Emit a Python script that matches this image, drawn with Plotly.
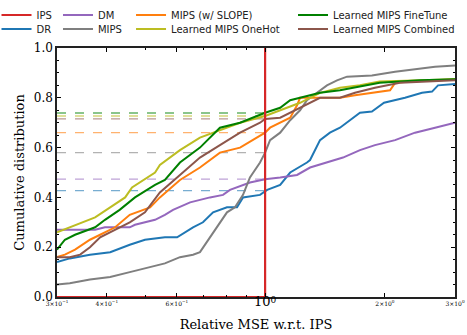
import plotly.graph_objects as go

# ---------------- data ----------------
ips_x = [0.3, 1.0, 1.0]
ips_y = [0.0, 0.0, 1.0]

dr_x = [0.300, 0.323, 0.363, 0.408, 0.457, 0.499, 0.560, 0.601, 0.659, 0.698, 0.740, 0.802, 0.850, 0.880, 0.971, 1.0,
        1.012, 1.091, 1.156, 1.274, 1.297, 1.374, 1.455, 1.542, 1.634, 1.731, 1.855, 1.99, 2.246, 2.479, 2.627, 2.719, 3.0]
dr_y = [0.14, 0.155, 0.17, 0.18, 0.21, 0.23, 0.24, 0.24, 0.28, 0.30, 0.34, 0.36, 0.36, 0.40, 0.41, 0.427,
        0.43, 0.45, 0.50, 0.54, 0.55, 0.63, 0.66, 0.68, 0.71, 0.74, 0.745, 0.78, 0.80, 0.82, 0.825, 0.85, 0.855]

dm_x = [0.300, 0.374, 0.396, 0.457, 0.471, 0.529, 0.560, 0.587, 0.648, 0.727, 0.784, 0.816, 0.916, 1.0,
        1.091, 1.203, 1.297, 1.430, 1.569, 1.731, 1.888, 2.121, 2.38, 2.673, 3.0]
dm_y = [0.27, 0.27, 0.28, 0.28, 0.29, 0.31, 0.33, 0.35, 0.38, 0.40, 0.41, 0.43, 0.46, 0.473,
        0.48, 0.49, 0.52, 0.54, 0.56, 0.59, 0.61, 0.63, 0.66, 0.68, 0.70]

mips_x = [0.300, 0.323, 0.363, 0.408, 0.457, 0.514, 0.560, 0.611, 0.659, 0.686, 0.727, 0.770, 0.802, 0.840, 0.880,
          0.916, 0.971, 1.0, 1.029, 1.091, 1.156, 1.224, 1.274, 1.350, 1.430, 1.516, 1.606, 1.855, 2.121, 2.673, 3.0]
mips_y = [0.05, 0.055, 0.07, 0.08, 0.10, 0.12, 0.135, 0.16, 0.17, 0.18, 0.24, 0.30, 0.34, 0.36, 0.41,
          0.48, 0.54, 0.58, 0.63, 0.66, 0.71, 0.75, 0.79, 0.82, 0.85, 0.87, 0.885, 0.89, 0.905, 0.925, 0.93]

slope_x = [0.300, 0.314, 0.333, 0.363, 0.385, 0.420, 0.457, 0.514, 0.544, 0.611, 0.686, 0.770, 0.865, 0.971, 1.0,
           1.029, 1.091, 1.156, 1.203, 1.224, 1.374, 1.542, 1.682, 2.06, 2.121, 2.312, 3.0]
slope_y = [0.16, 0.17, 0.19, 0.23, 0.25, 0.28, 0.33, 0.36, 0.40, 0.47, 0.52, 0.58, 0.60, 0.65, 0.66,
           0.68, 0.70, 0.72, 0.77, 0.80, 0.80, 0.80, 0.81, 0.83, 0.86, 0.865, 0.875]

onehot_x = [0.300, 0.374, 0.408, 0.445, 0.463, 0.529, 0.544, 0.611, 0.686, 0.770, 0.865, 1.0,
            1.091, 1.224, 1.374, 1.542, 1.731, 1.94, 3.0]
onehot_y = [0.26, 0.32, 0.36, 0.40, 0.44, 0.50, 0.53, 0.59, 0.64, 0.67, 0.70, 0.727,
            0.75, 0.78, 0.82, 0.84, 0.85, 0.865, 0.875]

finetune_x = [0.300, 0.314, 0.333, 0.374, 0.396, 0.431, 0.471, 0.529, 0.560, 0.611, 0.686, 0.727, 0.770, 0.865, 1.0,
              1.091, 1.156, 1.224, 1.374, 1.542, 1.731, 1.94, 2.45, 3.0]
finetune_y = [0.19, 0.23, 0.25, 0.28, 0.31, 0.35, 0.40, 0.45, 0.47, 0.54, 0.60, 0.64, 0.68, 0.70, 0.74,
              0.76, 0.79, 0.80, 0.82, 0.83, 0.845, 0.86, 0.87, 0.875]

combined_x = [0.300, 0.323, 0.343, 0.363, 0.385, 0.408, 0.457, 0.499, 0.544, 0.611, 0.686, 0.770, 0.865, 0.971, 1.0,
              1.091, 1.156, 1.224, 1.297, 1.374, 1.542, 1.682, 1.888, 2.18, 3.0]
combined_y = [0.16, 0.16, 0.17, 0.20, 0.24, 0.26, 0.30, 0.34, 0.42, 0.49, 0.56, 0.61, 0.66, 0.70, 0.715,
              0.72, 0.74, 0.76, 0.78, 0.80, 0.80, 0.82, 0.84, 0.86, 0.87]

# CDF level of each method at x = 1 (dashed guide lines)
level_names = ["DR", "DM", "MIPS", "MIPS (w/ SLOPE)", "Learned MIPS OneHot", "Learned MIPS FineTune", "Learned MIPS Combined"]
level_values = [0.427, 0.473, 0.58, 0.66, 0.727, 0.739, 0.715]

x_tickvals = [0.3, 0.4, 0.6, 1, 2, 3]
x_ticktext = ["3×10<sup>−1</sup>", "4×10<sup>−1</sup>", "6×10<sup>−1</sup>",
              "<span style='font-size:13px'>10</span><sup><span style='font-size:9px'>0</span></sup>",
              "2×10<sup>0</sup>", "3×10<sup>0</sup>"]
x_minor = [0.5, 0.7, 0.8, 0.9]
y_tickvals = [0.0, 0.2, 0.4, 0.6, 0.8, 1.0]
y_ticktext = ["0.0", "0.2", "0.4", "0.6", "0.8", "1.0"]

colors = {
    "IPS": "#d62728", "DR": "#1f77b4", "DM": "#9467bd", "MIPS": "#7f7f7f",
    "MIPS (w/ SLOPE)": "#ff7f0e", "Learned MIPS OneHot": "#bcbd22",
    "Learned MIPS FineTune": "#008000", "Learned MIPS Combined": "#8c564b",
}

# legend slot of each method: (legend id, column, row)
legend_slots = {
    "IPS": ("legend", 0, 0), "DR": ("legend2", 0, 1),
    "DM": ("legend3", 1, 0), "MIPS": ("legend4", 1, 1),
    "MIPS (w/ SLOPE)": ("legend5", 2, 0), "Learned MIPS OneHot": ("legend6", 2, 1),
    "Learned MIPS FineTune": ("legend7", 3, 0), "Learned MIPS Combined": ("legend8", 3, 1),
}
col_x = [-0.152, 0.0025, 0.186, 0.593]
row_y = [1.1325, 1.0763]

series = [
    ("DR", dr_x, dr_y),
    ("DM", dm_x, dm_y),
    ("MIPS", mips_x, mips_y),
    ("MIPS (w/ SLOPE)", slope_x, slope_y),
    ("Learned MIPS OneHot", onehot_x, onehot_y),
    ("Learned MIPS FineTune", finetune_x, finetune_y),
    ("Learned MIPS Combined", combined_x, combined_y),
]

fig = go.Figure()

# dashed guide lines
for name, lv in zip(level_names, level_values):
    fig.add_trace(go.Scatter(x=[x_tickvals[0], 1.0], y=[lv, lv], mode="lines",
                             line=dict(color=colors[name], width=1.3, dash="dash"),
                             opacity=0.6, showlegend=False, hoverinfo="skip"))

for name, xs, ys in series:
    fig.add_trace(go.Scatter(x=xs, y=ys, mode="lines", name=name, legend=legend_slots[name][0],
                             line=dict(color=colors[name], width=2)))

fig.add_trace(go.Scatter(x=ips_x, y=ips_y, mode="lines", name="IPS", legend=legend_slots["IPS"][0],
                         line=dict(color=colors["IPS"], width=2.2)))

serif = "DejaVu Serif"
leg_layout = {}
for name, (lid, c, r) in legend_slots.items():
    leg_layout[lid] = dict(x=col_x[c], y=row_y[r], xanchor="left", yanchor="middle",
                           font=dict(family="DejaVu Sans", size=10, color="#222"),
                           bgcolor="rgba(0,0,0,0)", orientation="v", itemwidth=30)

fig.update_layout(
    width=467, height=335,
    margin=dict(l=57, r=12, t=48, b=38, autoexpand=False),
    paper_bgcolor="white", plot_bgcolor="white",
    xaxis=dict(type="log", range=[-0.5229, 0.4771], tickvals=x_tickvals, ticktext=x_ticktext,
               tickfont=dict(family=serif, size=6, color="black"),
               ticks="inside", ticklen=4, tickcolor="black", mirror="allticks",
               showline=True, linecolor="#222", linewidth=1.5, showgrid=False, zeroline=False,
               minor=dict(tickvals=x_minor, ticks="inside", ticklen=2, tickcolor="black"),
               title=dict(text="Relative MSE w.r.t. IPS", font=dict(family=serif, size=13, color="black"),
                          standoff=12)),
    yaxis=dict(range=[0, 1], tickvals=y_tickvals, ticktext=y_ticktext,
               tickfont=dict(family=serif, size=12, color="black"),
               ticks="inside", ticklen=4, tickcolor="black", mirror="allticks",
               showline=True, linecolor="#222", linewidth=1.5, showgrid=False, zeroline=False,
               minor=dict(dtick=0.05, ticks="inside", ticklen=2, tickcolor="black"),
               title=dict(text="Cumulative distribution", font=dict(family=serif, size=13, color="black"),
                          standoff=6)),
    **leg_layout,
)

fig.write_html("out.html", config={"displayModeBar": False},
               post_script="document.body.style.margin='0';document.body.style.overflow='hidden';")
